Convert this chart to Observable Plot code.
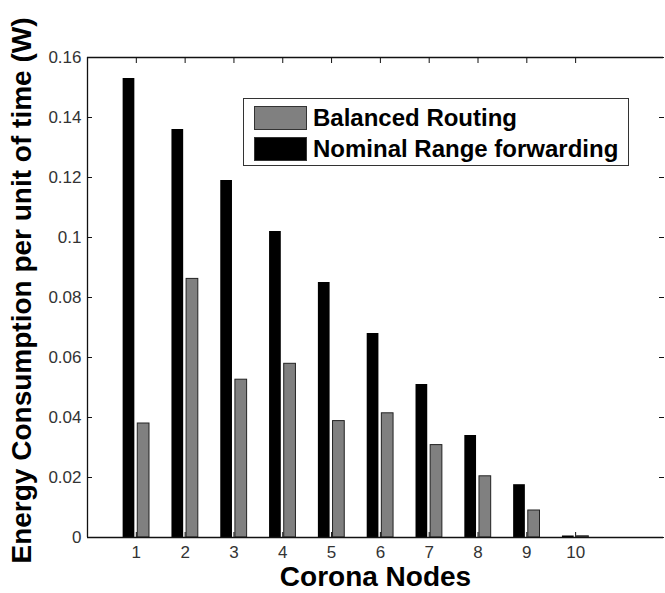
<!DOCTYPE html>
<html>
<head>
<meta charset="utf-8">
<script src="https://cdn.jsdelivr.net/npm/d3@7"></script>
<script src="https://cdn.jsdelivr.net/npm/@observablehq/plot@0.6"></script>
<style>
  html, body { margin: 0; padding: 0; background: #fff; }
  #wrap { position: relative; width: 665px; height: 593px; }
  #legend { position: absolute; left: 243px; top: 98px; width: 386px; height: 68px; border: 1.3px solid #333; background: #fff; box-sizing: border-box; font-family: Arial, "Liberation Sans", sans-serif; font-weight: bold; font-size: 24px; color: #000; }
  .item { position: absolute; left: 10px; height: 25px; display: flex; align-items: center; }
  .sw { width: 53px; height: 24px; box-sizing: border-box; border: 1.2px solid #333; margin-right: 6px; }
</style>
</head>
<body>
<div id="wrap"></div>
<script>
const nodes = [1, 2, 3, 4, 5, 6, 7, 8, 9, 10];
const nominal = [0.153, 0.136, 0.119, 0.102, 0.085, 0.068, 0.051, 0.034, 0.0176, 0.0005];
const balanced = [0.038, 0.0862, 0.0526, 0.0579, 0.0388, 0.0414, 0.0308, 0.0204, 0.009, 0.0004];
const seriesNames = ["Balanced Routing", "Nominal Range forwarding"];
const seriesColors = ["#808080", "#000000"];
const yTicks = [0, 0.02, 0.04, 0.06, 0.08, 0.1, 0.12, 0.14, 0.16];
const xTicks = nodes;
const xLabel = "Corona Nodes";
const yLabel = "Energy Consumption per unit of time (W)";

const nomData = nodes.map((n, i) => ({node: n, value: nominal[i]}));
const balData = nodes.map((n, i) => ({node: n, value: balanced[i]}));

const chart = Plot.plot({
  width: 665,
  height: 593,
  marginLeft: 87,
  marginRight: 2,
  marginTop: 57,
  marginBottom: 56,
  style: {fontFamily: "Arial, 'Liberation Sans', sans-serif", background: "#fff", color: "#000"},
  x: {domain: [0, 11.8]},
  y: {domain: [0, 0.16]},
  marks: [
    Plot.rectY(nomData, {x1: d => d.node - 0.27, x2: d => d.node - 0.03, y: "value", fill: seriesColors[1]}),
    Plot.rectY(balData, {x1: d => d.node + 0.03, x2: d => d.node + 0.27, y: "value", fill: seriesColors[0], stroke: "#222", strokeWidth: 1}),
    Plot.ruleY([0], {stroke: "#111", strokeWidth: 1.3}),
    Plot.ruleY([0.16], {stroke: "#111", strokeWidth: 1.3}),
    Plot.ruleX([0], {stroke: "#111", strokeWidth: 1.3}),
    Plot.axisY({anchor: "left", ticks: yTicks, tickSize: -5, tickPadding: 11, fontSize: 17, fill: "#333", stroke: "#111", tickFormat: d => String(+d.toFixed(2)), label: null}),
    Plot.axisY({anchor: "right", ticks: yTicks, tickSize: -5, tickFormat: () => "", stroke: "#111", label: null}),
    Plot.axisX({anchor: "bottom", ticks: xTicks, tickSize: -5, tickPadding: 13, fontSize: 17, fill: "#333", stroke: "#111", tickFormat: d => String(d), label: null}),
    Plot.axisX({anchor: "top", ticks: xTicks, tickSize: -5, tickFormat: () => "", stroke: "#111", label: null}),
    Plot.text([xLabel], {frameAnchor: "bottom", dy: 48, fontSize: 28, fontWeight: "bold", fill: "#000"}),
    Plot.text([yLabel], {frameAnchor: "left", textAnchor: "middle", dx: -65, dy: -7, rotate: -90, fontSize: 28, fontWeight: "bold", fill: "#000"})
  ]
});

const wrap = document.getElementById("wrap");
wrap.appendChild(chart);
const legend = document.createElement("div");
legend.id = "legend";
seriesNames.forEach((name, i) => {
  const item = document.createElement("div");
  item.className = "item";
  item.style.top = (i === 0 ? 6 : 37) + "px";
  const sw = document.createElement("div");
  sw.className = "sw";
  sw.style.background = seriesColors[i];
  const tx = document.createElement("span");
  tx.textContent = name;
  item.appendChild(sw);
  item.appendChild(tx);
  legend.appendChild(item);
});
wrap.appendChild(legend);
</script>
</body>
</html>
